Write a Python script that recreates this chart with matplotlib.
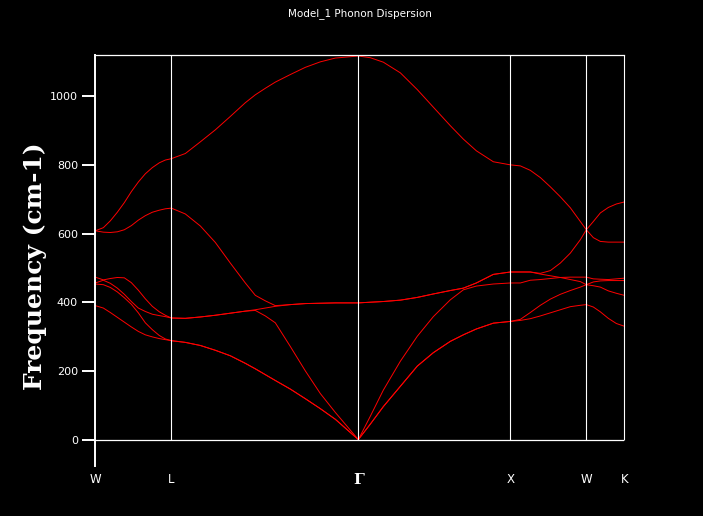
import matplotlib
matplotlib.use("Agg")
import matplotlib.pyplot as plt

# high-symmetry points along the path (path distance, arbitrary units)
sym_labels = ['W', 'L', 'Γ', 'X', 'W', 'K']
sym_pos = [0, 76, 263, 415, 491, 529]

# sampled path distance
kdist = [0, 8, 15, 22, 29, 36, 43, 50, 57, 64, 70, 76,
         90, 105, 120, 135, 150, 160, 170, 180, 195, 210, 225, 240, 263,
         275, 288, 305, 322, 338, 355, 368, 381, 398, 415,
         425, 435, 445, 455, 465, 475, 485, 491,
         498, 505, 513, 521, 529]

# phonon branches, cm-1
band1 = [390, 383, 370, 356, 342, 328, 315, 305, 299, 294, 291, 288,
         283, 274, 260, 244, 222, 206, 189, 172, 147, 119, 90, 59, 0,
         45, 96, 155, 214, 253, 286, 305, 322, 339, 344,
         347, 352, 360, 369, 378, 387, 391, 393,
         386, 372, 353, 338, 330]
band2 = [453, 451, 443, 430, 413, 394, 369, 340, 320, 303, 293, 288,
         283, 274, 260, 244, 222, 206, 189, 172, 147, 119, 90, 59, 0,
         45, 96, 155, 214, 253, 286, 305, 322, 339, 344,
         350, 370, 391, 409, 423, 434, 444, 451,
         448, 444, 433, 426, 420]
band3 = [456, 464, 455, 441, 423, 402, 383, 373, 365, 361, 358, 354,
         353, 357, 362, 368, 374, 376, 360, 340, 271, 200, 134, 79, 0,
         68, 144, 228, 301, 358, 407, 436, 447, 453, 456,
         456, 464, 466, 469, 472, 466, 460, 451,
         459, 462, 463, 463, 463]
band4 = [473, 465, 469, 472, 471, 457, 435, 410, 388, 372, 362, 354,
         353, 357, 362, 368, 374, 378, 383, 388, 393, 396, 397, 398, 398,
         400, 402, 406, 414, 424, 434, 441, 456, 481, 488,
         488, 488, 482, 477, 472, 473, 473, 473,
         468, 467, 466, 468, 470]
band5 = [608, 604, 603, 605, 611, 623, 639, 652, 662, 668, 672, 674,
         657, 622, 574, 514, 456, 420, 404, 390, 393, 396, 397, 398, 398,
         400, 402, 406, 414, 424, 434, 441, 456, 481, 488,
         488, 488, 484, 492, 514, 543, 582, 611,
         588, 577, 575, 575, 575]
band6 = [608, 617, 637, 662, 690, 722, 750, 774, 792, 806, 814, 818,
         833, 867, 902, 941, 981, 1004, 1023, 1041, 1063, 1084, 1100, 1111, 1117,
         1112, 1099, 1068, 1019, 968, 914, 875, 841, 809, 800,
         797, 784, 763, 736, 707, 675, 635, 611,
         635, 660, 676, 686, 692]

yticks = [0, 200, 400, 600, 800, 1000]
ymin, ymax = -77, 1119

small_font = ['Liberation Sans Narrow', 'DejaVu Sans']

fig = plt.figure(figsize=(7.03, 5.16), dpi=100, facecolor='black')
ax = fig.add_axes([0.1356, 0.0969, 0.7525, 0.7959], facecolor='black')

for band in [band1, band2, band3, band4, band5, band6]:
    ax.plot(kdist, band, color='#ff0000', lw=0.7)

# frame: zero line and vertical lines at the high-symmetry points
ax.axhline(0, color='white', lw=0.9)
ax.vlines(sym_pos[1:], 0, ymax, color='white', lw=0.8, clip_on=False)

ax.set_xlim(sym_pos[0], sym_pos[-1])
ax.set_ylim(ymin, ymax)

for side in ['right', 'bottom']:
    ax.spines[side].set_visible(False)
ax.spines['left'].set_color('white')
ax.spines['left'].set_linewidth(1.4)
ax.spines['top'].set_color('white')
ax.spines['top'].set_linewidth(0.9)

ax.set_yticks(yticks)
ax.set_yticklabels([str(v) for v in yticks], family=small_font, fontsize=8)
ax.tick_params(axis='y', colors='white', direction='out', length=9.5,
               width=1.4, pad=3)

ax.set_xticks(sym_pos)
ax.set_xticklabels(sym_labels, family=small_font, fontsize=8.5)
ax.tick_params(axis='x', colors='white', length=0, pad=5)
gamma = ax.get_xticklabels()[2]
gamma.set_family('DejaVu Serif')
gamma.set_fontsize(11)
gamma.set_fontweight('bold')

fig.text(0.5118, 1 - 14 / 516, 'Model_1 Phonon Dispersion', color='white',
         family=small_font, fontsize=7.5, ha='center', va='center')
fig.text(35 / 703, 1 - 266 / 516, 'Frequency (cm-1)', color='white',
         family='DejaVu Serif', fontweight='bold', fontsize=18,
         rotation=90, ha='center', va='center')

fig.savefig('out.png', dpi=100, facecolor='black')
